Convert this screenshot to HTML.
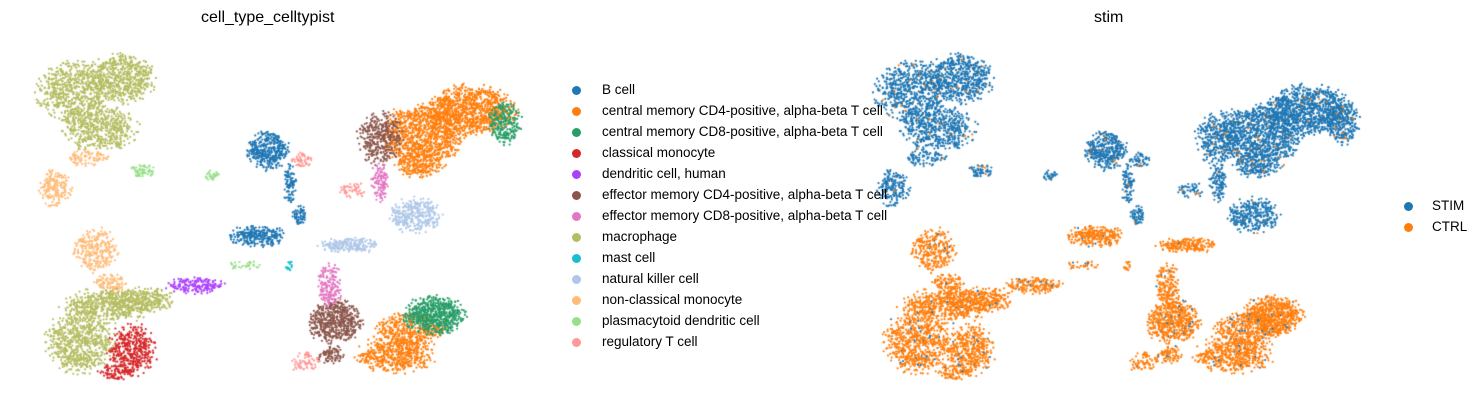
<!DOCTYPE html>
<html><head><meta charset="utf-8"><style>
body{margin:0;background:#fff;width:1483px;height:411px;overflow:hidden;position:relative;font-family:"Liberation Sans","DejaVu Sans",sans-serif;}
canvas{position:absolute;left:0;top:0}
.t{position:absolute;font-size:16px;color:#000;white-space:nowrap}
.lg{position:absolute;font-size:13.5px;color:#000;white-space:nowrap}
.d{position:absolute;width:9px;height:9px;border-radius:50%}
</style></head><body>
<canvas id="c" width="1483" height="411"></canvas>
<div class="t" style="left:201px;top:9px">cell_type_celltypist</div>
<div class="t" style="left:1094px;top:9px">stim</div>
<div id="leg"></div>
<script>
var C={B:"#1f77b4",CD4:"#ff7f0e",CD8:"#279e68",mono:"#d62728",dc:"#aa40fc",eCD4:"#8c564b",eCD8:"#e377c2",mac:"#b5bd61",mast:"#17becf",nk:"#aec7e8",ncm:"#ffbb78",pdc:"#98df8a",treg:"#ff9896"};
var names=[["B","B cell"],["CD4","central memory CD4-positive, alpha-beta T cell"],["CD8","central memory CD8-positive, alpha-beta T cell"],["mono","classical monocyte"],["dc","dendritic cell, human"],["eCD4","effector memory CD4-positive, alpha-beta T cell"],["eCD8","effector memory CD8-positive, alpha-beta T cell"],["mac","macrophage"],["mast","mast cell"],["nk","natural killer cell"],["ncm","non-classical monocyte"],["pdc","plasmacytoid dendritic cell"],["treg","regulatory T cell"]];
var h="";
names.forEach(function(n,i){var y=90+i*21;h+='<div class="d" style="left:572px;top:'+(y-4.5)+'px;background:'+C[n[0]]+'"></div><div class="lg" style="left:602px;top:'+(y-8)+'px">'+n[1]+'</div>';});
h+='<div class="d" style="left:1404px;top:201.5px;background:#1f77b4"></div><div class="lg" style="left:1432px;top:198px">STIM</div>';
h+='<div class="d" style="left:1404px;top:222.5px;background:#ff7f0e"></div><div class="lg" style="left:1432px;top:219px">CTRL</div>';
document.getElementById("leg").innerHTML=h;
var s=12345;function r(){s=(s*1103515245+12345)%2147483648;return s/2147483648;}
// [type, cx, cy, rx, ry, n, stim(1=blue)]
var cl=[
["mac",75,92,42,35,700,1],["mac",122,78,38,28,600,1],["mac",100,128,42,25,500,1],
["ncm",55,188,18,20,180,1],["ncm",88,158,25,9,90,1],["pdc",142,170,14,8,60,1],["pdc",212,175,8,6,30,1],
["ncm",95,250,25,25,280,0],["ncm",112,283,20,12,100,0],["pdc",245,265,20,5,30,0],
["mac",80,342,38,35,700,0],["mac",140,300,40,14,300,0],["mac",108,305,50,20,500,0],
["mono",132,350,28,28,420,0],["mono",115,372,20,9,90,0],["dc",195,285,32,10,170,0],
["B",268,150,23,22,380,1],["B",290,185,7,25,90,1],["B",300,215,10,10,60,1],
["B",258,236,33,12,280,0],
["treg",302,160,12,10,50,1],["treg",352,190,15,10,50,1],["treg",305,362,16,12,70,0],
["CD4",422,135,45,35,1000,1],["CD4",470,110,50,28,1000,1],["CD4",420,165,28,14,200,1],
["CD8",505,122,18,25,250,1],["eCD4",380,138,25,30,380,1],["eCD8",380,182,10,22,120,1],["nk",415,215,30,20,330,1],
["nk",350,245,33,9,200,0],
["CD4",395,355,45,20,500,0],["CD4",410,330,40,20,400,0],["CD8",435,315,35,22,650,0],
["eCD4",335,322,30,25,550,0],["eCD4",330,355,15,10,80,0],["eCD8",330,285,14,25,180,0],["mast",290,266,5,6,15,0]
];
var ctx=document.getElementById("c").getContext("2d");
cl.forEach(function(c){
 for(var i=0;i<c[5];i++){
  var a=r()*6.2832,d=Math.sqrt(r())*(0.6+0.4*r());
  var x=c[1]+Math.cos(a)*c[3]*d,y=c[2]+Math.sin(a)*c[4]*d;
  ctx.fillStyle=C[c[0]];ctx.beginPath();ctx.arc(x,y,1.1,0,6.2832);ctx.fill();
  var b=c[6];if(r()<0.03)b=1-b;
  ctx.fillStyle=b?"#1f77b4":"#ff7f0e";
  ctx.beginPath();ctx.arc(x+838,y,1.1,0,6.2832);ctx.fill();
 }
});
</script>
</body></html>
